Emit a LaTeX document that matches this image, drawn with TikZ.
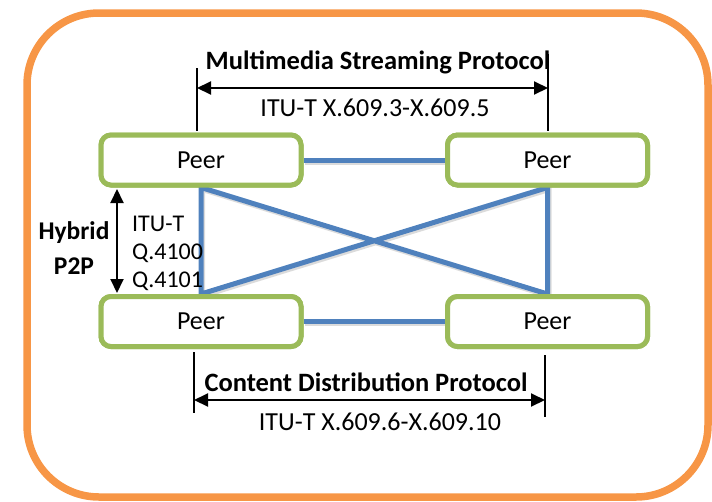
\documentclass[tikz,border=0pt]{standalone}
\usepackage{fontspec}
\setmainfont{Carlito}
\usetikzlibrary{arrows.meta}
\definecolor{frameorange}{HTML}{F79646}
\definecolor{peergreen}{HTML}{9BBB59}
\definecolor{linkblue}{HTML}{4F81BD}
\tikzset{
  peer/.style={draw=peergreen, line width=5pt, rounded corners=10pt, fill=white,
    minimum width=200pt, minimum height=50pt, inner sep=0pt,
    font=\fontsize{26}{30}\selectfont},
  link/.style={draw=linkblue, line width=5pt},
  linkshadow/.style={draw=black!40, line width=5pt, opacity=0.35},
  tick/.style={draw=black, line width=1.4pt},
  dimarrow/.style={draw=black, line width=2pt, {Triangle[length=14pt,width=13pt]}-{Triangle[length=14pt,width=13pt]}},
  heading/.style={font=\fontsize{26.5}{30}\selectfont\bfseries, inner sep=0pt},
  note/.style={font=\fontsize{26}{30}\selectfont, inner sep=0pt},
  smallnote/.style={font=\fontsize{24}{28}\selectfont, inner sep=0pt, anchor=west}
}
\begin{document}
\begin{tikzpicture}[x=1pt, y=-1pt]
  \useasboundingbox (0,0) rectangle (712,501);
  % outer frame
  \draw[frameorange, line width=7.5pt, rounded corners=72pt] (27,13) rectangle (708,497);

  % peers
  \node[peer] (tl) at (201,160) {Peer};
  \node[peer] (tr) at (547.5,160) {Peer};
  \node[peer] (bl) at (201,321.5) {Peer};
  \node[peer] (br) at (547.5,321.5) {Peer};

  % mesh links (shadow, then line)
  \begin{scope}[transform canvas={shift={(1.5pt,-2pt)}}]
    \draw[linkshadow] (tl.east) -- (tr.west);
    \draw[linkshadow] (bl.east) -- (br.west);
    \draw[linkshadow] (tl.south) -- (bl.north) -- (tr.south) -- (br.north) -- cycle;
  \end{scope}
  \draw[link] (tl.east) -- (tr.west);
  \draw[link] (bl.east) -- (br.west);
  \draw[link, line join=miter] (tl.south) -- (bl.north) -- (tr.south) -- (br.north) -- cycle;

  % redraw peers over link ends
  \node[peer] at (tl) {Peer};
  \node[peer] at (tr) {Peer};
  \node[peer] at (bl) {Peer};
  \node[peer] at (br) {Peer};

  % multimedia streaming protocol span
  \coordinate (mtl) at (197,68);
  \coordinate (mbl) at (197,131);
  \coordinate (mtr) at (548,54);
  \coordinate (mbr) at (548,131);
  \coordinate (mal) at (197,88);
  \coordinate (mar) at (548,88);
  \draw[tick] (mtl) -- (mbl);
  \draw[tick] (mtr) -- (mbr);
  \draw[dimarrow] (mal) -- (mar);
  \node[heading] (mhead) at (378,62) {Multimedia Streaming Protocol};
  \node[note] (mnote) at (375,108) {ITU-T X.609.3-X.609.5};

  % content distribution protocol span
  \coordinate (ctl) at (194,352);
  \coordinate (cbl) at (194,413);
  \coordinate (ctr) at (545,355);
  \coordinate (cbr) at (545,417);
  \coordinate (cal) at (194,400);
  \coordinate (car) at (545,400);
  \draw[tick] (ctl) -- (cbl);
  \draw[tick] (ctr) -- (cbr);
  \draw[dimarrow] (cal) -- (car);
  \node[heading] (chead) at (366,382) {Content Distribution Protocol};
  \node[note] (cnote) at (380,422) {ITU-T X.609.6-X.609.10};

  % hybrid P2P span
  \coordinate (ht) at (117,189);
  \coordinate (hb) at (117,293);
  \draw[dimarrow] (ht) -- (hb);
  \node[heading, font=\fontsize{25.5}{30}\selectfont\bfseries] (hyb) at (74,233) {Hybrid};
  \node[heading, font=\fontsize{25.5}{30}\selectfont\bfseries] (p2p) at (74,266) {P2P};
  \node[smallnote] (q0) at (132,224) {ITU-T};
  \node[smallnote] (q1) at (132,253) {Q.4100};
  \node[smallnote] (q2) at (132,281) {Q.4101};
\end{tikzpicture}
\end{document}
